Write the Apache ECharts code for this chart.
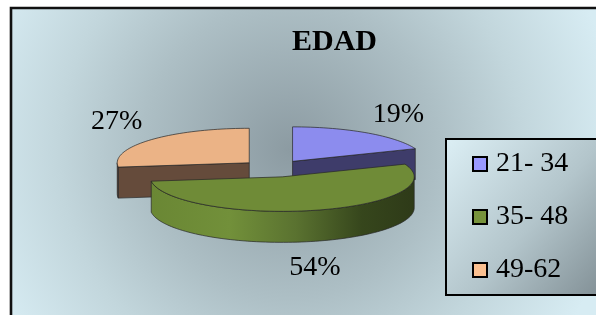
<!DOCTYPE html>
<html>
<head>
<meta charset="utf-8">
<script src="https://cdn.jsdelivr.net/npm/echarts@6/dist/echarts.min.js"></script>
<style>
  html, body { margin: 0; padding: 0; background: #fff; }
  #chart { width: 596px; height: 315px; }
</style>
</head>
<body>
<div id="chart"></div>
<script>
// data
const categories = ['21- 34', '35- 48', '49-62'];
const values = [19, 54, 27];

// colours (legend swatch / lit top face / side wall)
const legendColors = ['#9999FF', '#77933C', '#FAC090'];
const topColors = ['#8C8CEE', '#6F8B37', '#EBB386'];
const sideColors = ['#3E3C6A', '#4F6628', '#654B3B'];

// 3d pie layout
const CX = 274, CY = 168.5, RX = 132, RY = 34.5, DEPTH = 31, EXPLODE = 33;
const total = values.reduce((a, b) => a + b, 0);
const rad = d => d * Math.PI / 180;

const greenWall = new echarts.graphic.LinearGradient(0, 0, 1, 0, [
  { offset: 0, color: '#6A8734' },
  { offset: 0.3, color: '#72903A' },
  { offset: 0.55, color: '#5A7230' },
  { offset: 0.8, color: '#36461C' },
  { offset: 1, color: '#2E3A18' }
]);
const sideFills = [sideColors[0], greenWall, sideColors[2]];

const renderSlice = idx => (params, api) => {
  let before = 0;
  for (let j = 0; j < idx; j++) before += values[j];
  const v = api.value(0);
  // excel style: start at 12 o'clock, go clockwise
  const s = 90 - before / total * 360;
  const e = s - v / total * 360;
  const m = rad((s + e) / 2);
  const k = RY / RX;
  const cx = CX + EXPLODE * Math.cos(m);
  const cy = CY - EXPLODE * k * Math.sin(m);
  const pt = (deg, dy) => [cx + RX * Math.cos(rad(deg)), cy - RY * Math.sin(rad(deg)) + (dy || 0)];
  const arc = (a0, a1, dy) => {
    const pts = [];
    const n = Math.max(2, Math.ceil(Math.abs(a1 - a0) / 2));
    for (let i = 0; i <= n; i++) pts.push(pt(a0 + (a1 - a0) * i / n, dy));
    return pts;
  };
  const line = { stroke: '#262626', lineWidth: 0.7 };
  const children = [];

  // radial side faces that look at the viewer
  const face = a => ({
    type: 'polygon',
    shape: { points: [[cx, cy], pt(a), pt(a, DEPTH), [cx, cy + DEPTH]] },
    style: Object.assign({ fill: sideColors[idx] }, line)
  });
  if (Math.cos(rad(s)) < -1e-6) children.push(face(s));
  if (Math.cos(rad(e)) > 1e-6) children.push(face(e));

  // front part of the outer wall
  for (let kk = -2; kk <= 1; kk++) {
    const lo = Math.max(e, 360 * kk - 180), hi = Math.min(s, 360 * kk);
    if (hi - lo > 0.01) {
      children.push({
        type: 'polygon',
        shape: { points: arc(lo, hi, 0).concat(arc(hi, lo, DEPTH)) },
        style: Object.assign({ fill: sideFills[idx] }, line)
      });
    }
  }

  // top face
  children.push({
    type: 'polygon',
    shape: { points: [[cx, cy]].concat(arc(s, e, 0)) },
    style: Object.assign({ fill: topColors[idx] }, line)
  });

  // percent label outside the slice
  const ca = Math.cos(m), sa = Math.sin(m);
  const ax = cx + RX * ca;
  const ay = cy - RY * sa + (sa < 0 ? DEPTH : 0);
  const align = Math.abs(ca) < 0.4 ? 'center' : (ca > 0 ? 'left' : 'right');
  const vAlign = sa > 0 ? 'bottom' : 'top';
  children.push({
    type: 'text',
    z2: 10,
    style: {
      text: Math.round(v / total * 100) + '%',
      x: ax + (align === 'left' ? 6 : align === 'right' ? -8 : 0),
      y: ay + (vAlign === 'bottom' ? -4 : 12),
      align: align,
      verticalAlign: vAlign,
      fontFamily: 'Liberation Serif',
      fontSize: 28,
      fill: '#000'
    }
  });

  return { type: 'group', children };
};

const chart = echarts.init(document.getElementById('chart'));
chart.setOption({
  animation: false,
  title: {
    text: 'EDAD',
    left: 292,
    top: 27,
    padding: 0,
    textStyle: { fontFamily: 'Liberation Serif', fontWeight: 'bold', fontSize: 30, color: '#000', lineHeight: 30 }
  },
  legend: {
    orient: 'vertical',
    left: 446,
    top: 139,
    padding: [10, 60, 10, 26],
    itemGap: 23,
    itemWidth: 14,
    itemHeight: 14,
    icon: 'rect',
    selectedMode: false,
    backgroundColor: new echarts.graphic.LinearGradient(0, 0, 1, 1, [
      { offset: 0, color: '#DCEFF5' },
      { offset: 0.5, color: '#B3C5CB' },
      { offset: 1, color: '#77848A' }
    ]),
    borderColor: '#000',
    borderWidth: 2,
    itemStyle: { borderColor: '#000', borderWidth: 2 },
    textStyle: { fontFamily: 'Liberation Serif', fontSize: 28, color: '#000', lineHeight: 30, padding: [0, 0, 0, 4] },
    data: categories
  },
  graphic: [{
    type: 'rect',
    silent: true,
    z: -10,
    shape: { x: 11, y: 8, width: 620, height: 330 },
    style: {
      fill: new echarts.graphic.RadialGradient(290, 150, 330, [
        { offset: 0, color: '#8C9BA2' },
        { offset: 0.45, color: '#ADBFC5' },
        { offset: 0.7, color: '#C2D6DC' },
        { offset: 1, color: '#D7ECF3' }
      ], true),
      stroke: '#111',
      lineWidth: 2.6
    }
  }],
  series: categories.map((name, i) => ({
    type: 'custom',
    name: name,
    coordinateSystem: 'none',
    silent: true,
    z: i === 1 ? 3 : 2,
    itemStyle: { color: legendColors[i] },
    renderItem: renderSlice(i),
    data: [[values[i]]]
  }))
});
</script>
</body>
</html>
